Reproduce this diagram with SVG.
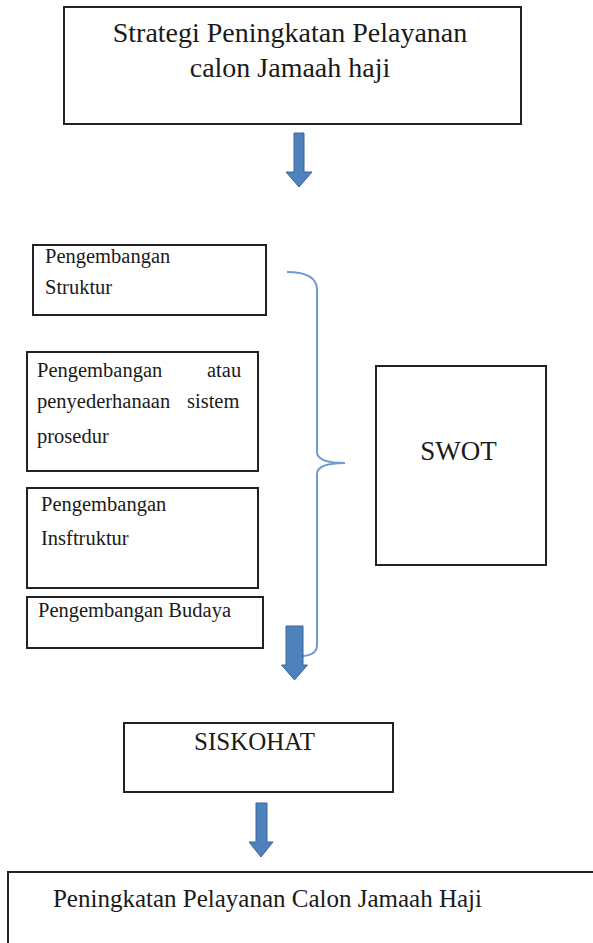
<svg xmlns="http://www.w3.org/2000/svg" width="593" height="943" viewBox="0 0 593 943">
<style>
.box{fill:#fff;stroke:#222;stroke-width:2}
text{font-family:'Liberation Serif','DejaVu Serif',serif;fill:#1a1a1a}
.sm{font-size:20.5px}
.arrow{fill:#4f81bd;stroke:#3a659a;stroke-width:1}
.brace{fill:none;stroke:#6f9bd1;stroke-width:2}
</style>
<rect width="593" height="943" fill="#fff"/>
<g id="strategi">
<rect class="box" x="64" y="7" width="457" height="117"/>
<text x="290" y="42" font-size="28" text-anchor="middle">Strategi Peningkatan Pelayanan</text>
<text x="290" y="77" font-size="28" text-anchor="middle">calon Jamaah haji</text>
</g>
<g id="struktur">
<rect class="box" x="33" y="245" width="233" height="70"/>
<text class="sm" x="45" y="263">Pengembangan</text>
<text class="sm" x="45" y="294">Struktur</text>
</g>
<g id="prosedur">
<rect class="box" x="27" y="352" width="231" height="119"/>
<text class="sm" y="377"><tspan x="37">Pengembangan</tspan><tspan x="207">atau</tspan></text>
<text class="sm" y="408"><tspan x="37">penyederhanaan</tspan><tspan x="187">sistem</tspan></text>
<text class="sm" x="37" y="443">prosedur</text>
</g>
<g id="infrastruktur">
<rect class="box" x="27" y="488" width="231" height="100"/>
<text class="sm" x="41" y="511">Pengembangan</text>
<text class="sm" x="41" y="545">Insftruktur</text>
</g>
<g id="budaya">
<rect class="box" x="27" y="597" width="236" height="51"/>
<text class="sm" x="38" y="617">Pengembangan Budaya</text>
</g>
<g id="swot">
<rect class="box" x="376" y="366" width="170" height="199"/>
<text x="458.5" y="460" font-size="27" text-anchor="middle">SWOT</text>
</g>
<g id="siskohat">
<rect class="box" x="124" y="723" width="269" height="69"/>
<text x="254.5" y="750" font-size="25" text-anchor="middle">SISKOHAT</text>
</g>
<g id="peningkatan">
<rect class="box" x="8" y="872" width="600" height="100"/>
<text x="267.5" y="907" font-size="25" text-anchor="middle">Peningkatan Pelayanan Calon Jamaah Haji</text>
</g>
<g id="connectors">
<path class="arrow" d="M294,133 H304 V172 H312 L299,187 L286,172 H294 Z"/>
<path class="brace" d="M287,272 Q317,272 317,290 L317,452 Q317,463 345,463 Q317,463 317,474 L317,645 Q317,655 303,656"/>
<path class="arrow" d="M286,626 H303 V665 H307.5 L294.5,680 L281.5,665 H286 Z"/>
<path class="arrow" d="M256,803 H267 V842 H273 L261,857 L249,842 H256 Z"/>
</g>
</svg>
